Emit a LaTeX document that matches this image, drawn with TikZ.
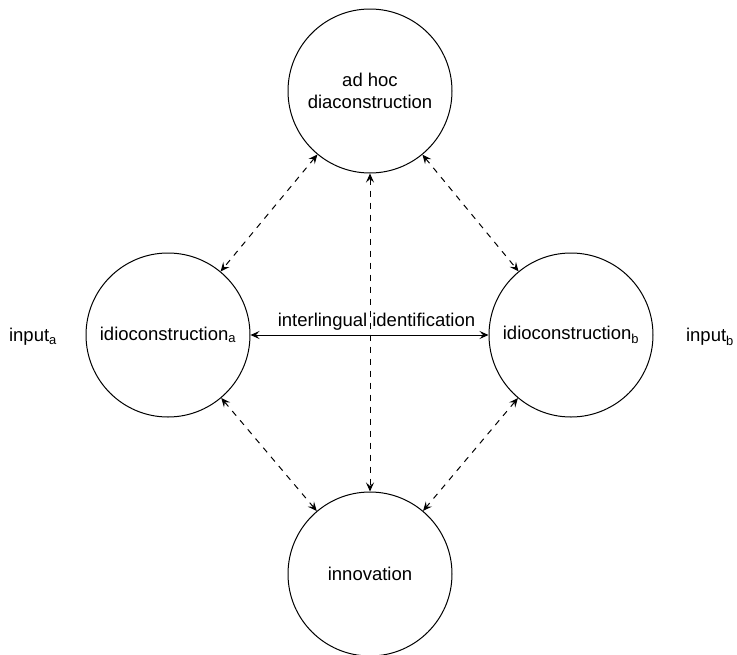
\documentclass[tikz,border=0pt]{standalone}
\usepackage{fontspec}
\setmainfont{Liberation Sans}
\usetikzlibrary{arrows.meta}
\begin{document}
\begin{tikzpicture}[x=1pt,y=-1pt,
  stage/.style={circle,draw,line width=1pt,minimum size=164pt,inner sep=0pt,align=center,font=\fontsize{18.5}{22}\selectfont},
  plain/.style={font=\fontsize{18.5}{22}\selectfont,inner sep=1pt},
  link/.style={line width=1pt,{Stealth[length=9pt,width=8pt,inset=3.5pt]}-{Stealth[length=9pt,width=8pt,inset=3.5pt]}},
  loose/.style={link,dash pattern=on 6pt off 6pt}]
  \useasboundingbox (0,0) rectangle (737,654);
  \node[stage] (adhoc) at (370,91) {ad hoc\\diaconstruction};
  \node[stage] (ida) at (168,335) {idioconstruction\textsubscript{a}};
  \node[stage] (idb) at (571,335) {idioconstruction\textsubscript{b}};
  \node[stage] (innov) at (370,574) {innovation};
  \node[plain] (ina) at (33,337) {input\textsubscript{a}};
  \node[plain] (inb) at (710,337) {input\textsubscript{b}};
  \draw[link] (ida) -- node[plain,above=3pt,xshift=7pt] {interlingual identification} (idb);
  \draw[loose] (adhoc) -- (ida);
  \draw[loose] (adhoc) -- (idb);
  \draw[loose] (adhoc) -- (innov);
  \draw[loose] (ida) -- (innov);
  \draw[loose] (idb) -- (innov);
\end{tikzpicture}
\end{document}
